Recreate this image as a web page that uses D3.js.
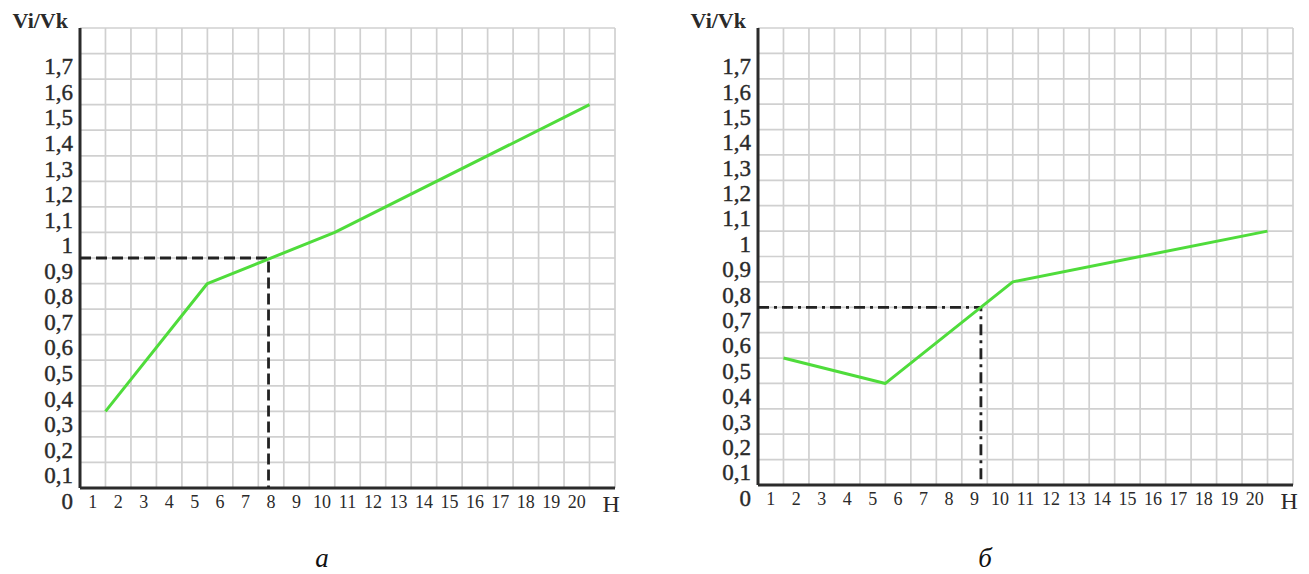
<!DOCTYPE html>
<html>
<head>
<meta charset="utf-8">
<script src="https://cdn.jsdelivr.net/npm/d3@7"></script>
<style>
  body { margin: 0; background: #fff; }
</style>
</head>
<body>
<div id="chart"></div>
<script>
// Tick labels (the grid has 21 columns and 18 rows)
const hTicks = d3.range(1, 21);
const vTicks = d3.range(0, 18).map(i => i / 10);

// Chart а : curve and reading point
const hA = [1, 5, 10, 20];
const vA = [0.3, 0.8, 1.0, 1.5];
const readA = { h: 7.4, v: 0.9 };

// Chart б : curve and reading point
const hB = [1, 5, 10, 20];
const vB = [0.5, 0.4, 0.8, 1.0];
const readB = { h: 8.75, v: 0.7 };

const width = 1309, height = 574;
const serif = "'Liberation Serif', 'Times New Roman', 'DejaVu Serif', serif";

const svg = d3.select("#chart")
    .append("svg")
    .attr("width", width)
    .attr("height", height)
    .attr("font-family", serif);

const panels = [
    { h: hA, v: vA, read: readA, left: 80, right: 615, top: 28, bottom: 488, dash: "11,5", caption: "а", capX: 322 },
    { h: hB, v: vB, read: readB, left: 758, right: 1293, top: 28, bottom: 485, dash: "11,5,3,5", caption: "б", capX: 985 }
];

panels.forEach(p => {
    const x = d3.scaleLinear().domain([0, 21]).range([p.left, p.right]);
    const y = d3.scaleLinear().domain([0, 1.8]).range([p.bottom, p.top]);
    const g = svg.append("g");

    // Сетка
    g.append("g")
        .selectAll("line")
        .data(d3.range(0, 22))
        .join("line")
        .attr("x1", d => x(d)).attr("x2", d => x(d))
        .attr("y1", y(0)).attr("y2", y(1.8))
        .attr("stroke", "#d0d0d0")
        .attr("stroke-width", 1.7);

    g.append("g")
        .selectAll("line")
        .data(d3.range(0, 19).map(i => i / 10))
        .join("line")
        .attr("x1", x(0)).attr("x2", x(21))
        .attr("y1", d => y(d)).attr("y2", d => y(d))
        .attr("stroke", "#d0d0d0")
        .attr("stroke-width", 1.7);

    // Оси
    g.append("line")
        .attr("x1", x(0)).attr("x2", x(0))
        .attr("y1", y(1.8)).attr("y2", y(0))
        .attr("stroke", "#2b2b2b").attr("stroke-width", 3);
    g.append("line")
        .attr("x1", x(0)).attr("x2", x(21))
        .attr("y1", y(0)).attr("y2", y(0))
        .attr("stroke", "#2b2b2b").attr("stroke-width", 3);

    // Подписи по Y (в центре клетки)
    g.append("g")
        .selectAll("text")
        .data(vTicks)
        .join("text")
        .attr("x", x(0) - 7)
        .attr("y", d => y(d - 0.05))
        .attr("dy", "0.35em")
        .attr("text-anchor", "end")
        .attr("fill", "#2a2a2a")
        .attr("stroke", "#2a2a2a")
        .attr("stroke-width", 0.4)
        .style("font-family", serif)
        .style("font-size", "23px")
        .text(d => String(+d.toFixed(1)).replace(".", ","));

    // Подписи по X
    g.append("g")
        .selectAll("text")
        .data(hTicks)
        .join("text")
        .attr("x", d => x(d - 0.5))
        .attr("y", y(0) + 14)
        .attr("dy", "0.35em")
        .attr("text-anchor", "middle")
        .attr("fill", "#2a2a2a")
        .style("font-family", serif)
        .style("font-size", "18px")
        .text(d => d);

    g.append("text")
        .attr("x", x(20.85))
        .attr("y", y(0) + 16)
        .attr("dy", "0.35em")
        .attr("text-anchor", "middle")
        .attr("fill", "#2a2a2a")
        .style("font-family", serif)
        .style("font-size", "24px")
        .text("H");

    g.append("text")
        .attr("x", x(0) - 12)
        .attr("y", y(1.8))
        .attr("text-anchor", "end")
        .attr("fill", "#2a2a2a")
        .style("font-family", serif)
        .style("font-size", "22px")
        .style("font-weight", "bold")
        .text("Vi/Vk");

    // Пунктир отсчёта
    g.append("path")
        .attr("d", d3.line()([[x(0), y(p.read.v)], [x(p.read.h), y(p.read.v)], [x(p.read.h), y(0)]]))
        .attr("fill", "none")
        .attr("stroke", "#222")
        .attr("stroke-width", 2.8)
        .attr("stroke-dasharray", p.dash);

    // Кривая
    const pts = p.h.map((h, i) => [h, p.v[i]]);
    g.append("path")
        .datum(pts)
        .attr("d", d3.line().x(d => x(d[0])).y(d => y(d[1])))
        .attr("fill", "none")
        .attr("stroke", "#4fdc3b")
        .attr("stroke-width", 3)
        .attr("stroke-linejoin", "round");

    // Подпись рисунка
    svg.append("text")
        .attr("x", p.capX)
        .attr("y", 567)
        .attr("text-anchor", "middle")
        .attr("fill", "#111")
        .style("font-family", serif)
        .style("font-size", "27px")
        .style("font-style", "italic")
        .text(p.caption);
});
</script>
</body>
</html>
